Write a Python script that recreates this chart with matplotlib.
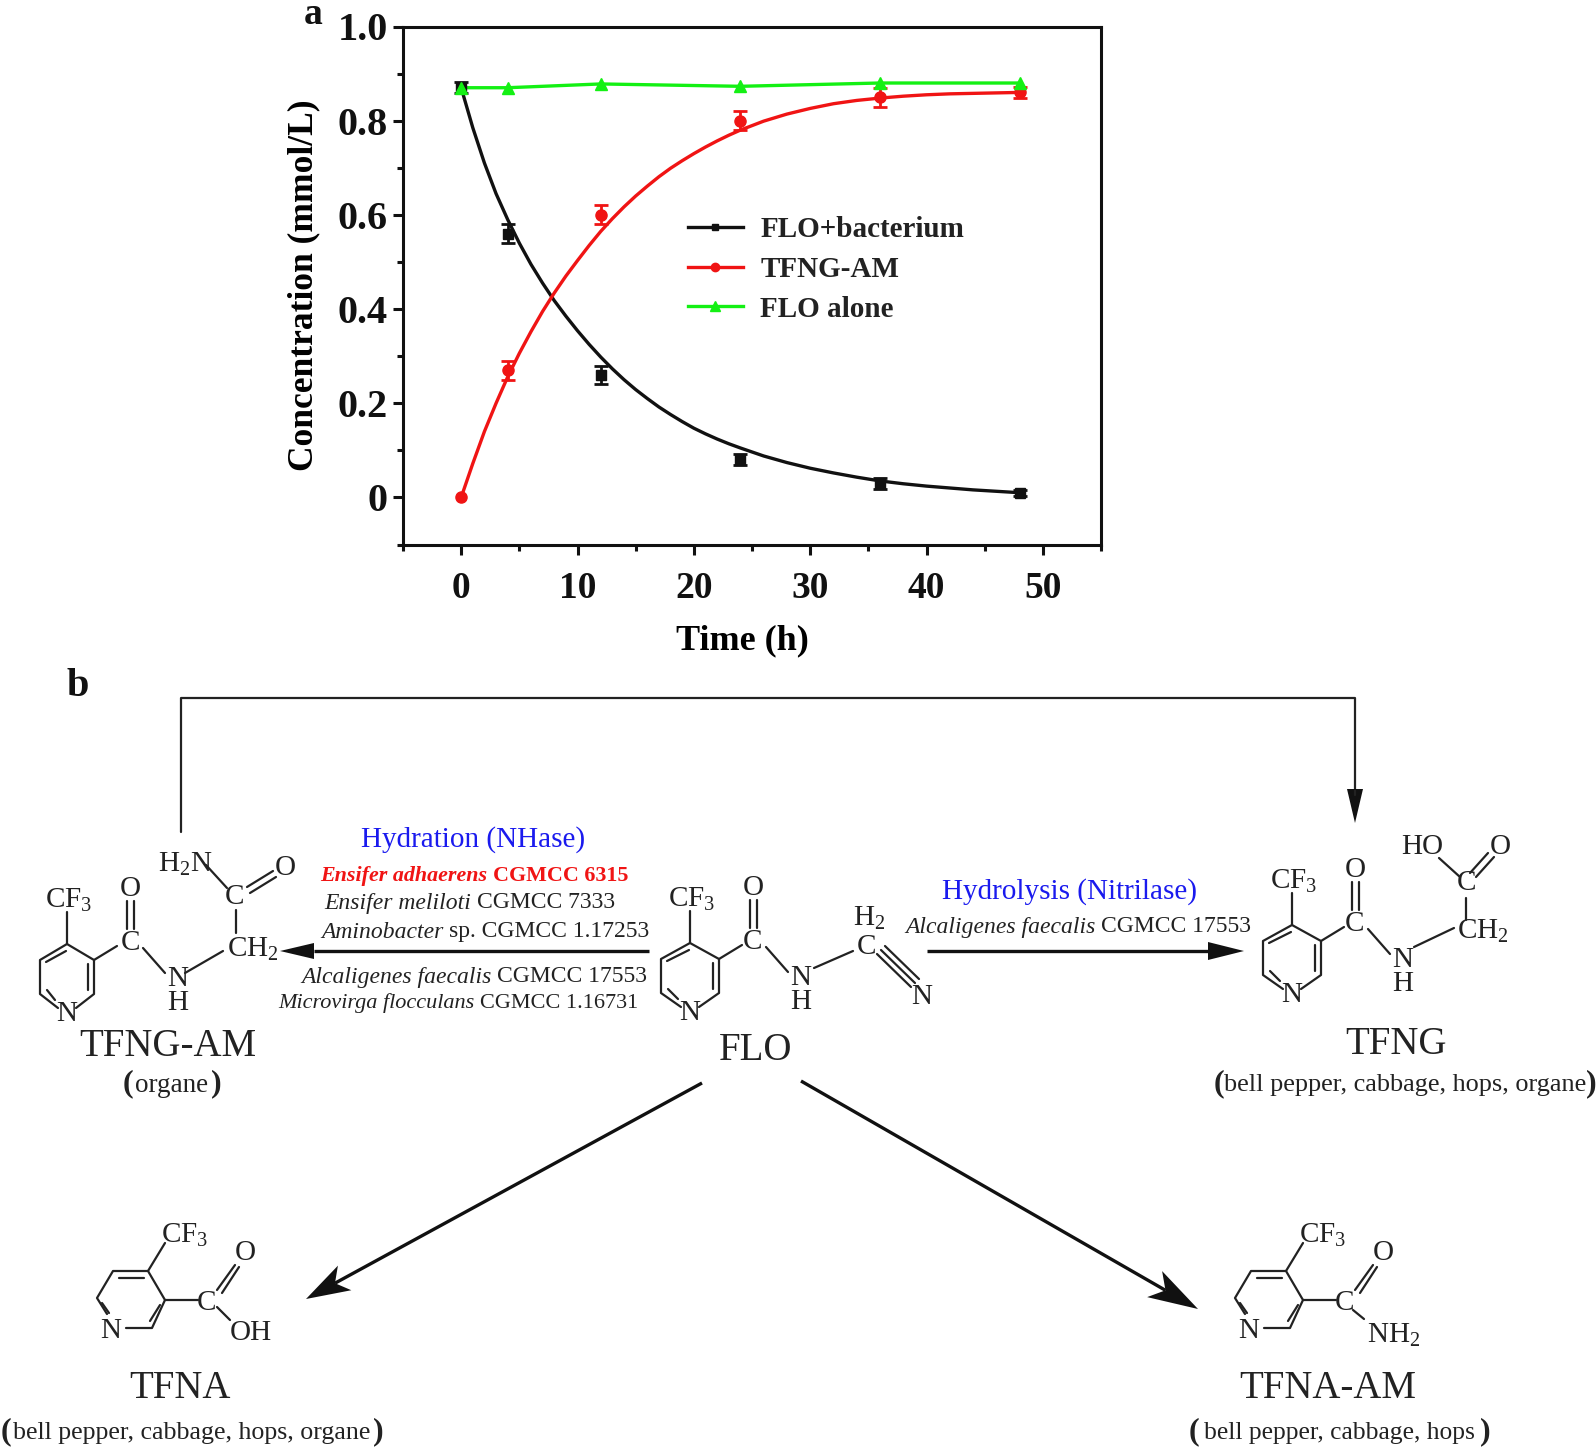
import numpy as np
import matplotlib
matplotlib.use('Agg')
import matplotlib.pyplot as plt
from matplotlib.lines import Line2D
from matplotlib.patches import Polygon

plt.rcParams['font.family'] = ['Liberation Serif', 'DejaVu Serif']
plt.rcParams['mathtext.fontset'] = 'custom'
plt.rcParams['mathtext.rm'] = 'Liberation Serif'
plt.rcParams['mathtext.it'] = 'Liberation Serif:italic'
plt.rcParams['mathtext.bf'] = 'Liberation Serif:bold'
plt.rcParams['mathtext.default'] = 'rm'

# Measured points
time_h = [0, 4, 12, 24, 36, 48]
flo_bacterium = [0.87, 0.56, 0.26, 0.08, 0.03, 0.01]
flo_bacterium_err = [0.012, 0.02, 0.02, 0.012, 0.012, 0.006]
tfng_am = [0.0, 0.27, 0.60, 0.80, 0.85, 0.86]
tfng_am_err = [0.0, 0.02, 0.02, 0.02, 0.02, 0.012]
flo_alone = [0.87, 0.87, 0.878, 0.873, 0.88, 0.88]

# Fitted curves
curve_t = [0, 1, 2, 3, 4, 5, 6, 7, 8, 9, 10, 11, 12, 13, 14, 15, 16, 17, 18, 19, 20, 21, 22, 23, 24,
           26, 28, 30, 32, 34, 36, 38, 40, 42, 44, 46, 48]
flo_curve = [0.87, 0.785, 0.71, 0.645, 0.59, 0.54, 0.495, 0.455, 0.418, 0.385, 0.354, 0.325, 0.298,
             0.273, 0.25, 0.229, 0.21, 0.192, 0.176, 0.161, 0.147, 0.135, 0.124, 0.114, 0.105,
             0.088, 0.074, 0.062, 0.052, 0.043, 0.035, 0.029, 0.024, 0.02, 0.016, 0.013, 0.01]
tfng_curve = [0.0, 0.072, 0.14, 0.2, 0.256, 0.306, 0.352, 0.395, 0.434, 0.47, 0.503, 0.535, 0.565,
              0.592, 0.617, 0.64, 0.661, 0.681, 0.699, 0.715, 0.73, 0.744, 0.757, 0.769, 0.78,
              0.799, 0.814, 0.826, 0.836, 0.843, 0.848, 0.852, 0.855, 0.857, 0.858, 0.859, 0.86]

x_ticks = [0, 10, 20, 30, 40, 50]
y_ticks = [0, 0.2, 0.4, 0.6, 0.8, 1.0]
y_tick_labels = ['0', '0.2', '0.4', '0.6', '0.8', '1.0']

BLACK = '#111111'
RED = '#f01414'
GREEN = '#14f014'
TEXT = '#222222'
BLUE = '#1a1aee'

fig = plt.figure(figsize=(15.96, 14.52), dpi=100, facecolor='white')

# Panel b drawn in pixel coordinates on a full figure axes
bg = fig.add_axes([0, 0, 1, 1])
bg.set_xlim(0, 1596)
bg.set_ylim(1452, 0)
bg.axis('off')

ax = fig.add_axes([403 / 1596, 1 - 544.5 / 1452, 698 / 1596, 518 / 1452])

ax.plot(curve_t, flo_curve, color=BLACK, lw=2.4, zorder=3)
ax.plot(curve_t, tfng_curve, color=RED, lw=2.4, zorder=3)
ax.plot(time_h, flo_alone, color=GREEN, lw=2.4, zorder=4)
ax.errorbar(time_h[1:], tfng_am[1:], yerr=tfng_am_err[1:], fmt='none', ecolor=RED, elinewidth=2, capsize=5, capthick=2, zorder=3)
ax.errorbar(time_h, flo_bacterium, yerr=flo_bacterium_err, fmt='none', ecolor=BLACK, elinewidth=2, capsize=5, capthick=2, zorder=3)
ax.plot(time_h, flo_bacterium, ls='none', marker='s', ms=7, color=BLACK, zorder=4)
ax.plot(time_h, tfng_am, ls='none', marker='o', ms=8, color=RED, zorder=4)
ax.plot(time_h, flo_alone, ls='none', marker='^', ms=8, color=GREEN, zorder=5)

ax.set_xlim(-5, 55)
ax.set_ylim(-0.1, 1.0)
ax.set_xticks(x_ticks)
ax.set_xticks([-5, 5, 15, 25, 35, 45, 55], minor=True)
ax.set_yticks(y_ticks)
ax.set_yticklabels(y_tick_labels)
ax.set_yticks([-0.1, 0.1, 0.3, 0.5, 0.7, 0.9], minor=True)
ax.tick_params(axis='both', which='major', length=7, width=2.2, direction='out', colors=BLACK)
ax.tick_params(axis='both', which='minor', length=4, width=2.2, direction='out', colors=BLACK)
ax.tick_params(axis='x', which='major', labelsize=27, pad=12)
ax.tick_params(axis='y', which='major', labelsize=29, pad=4)
for lab in ax.get_xticklabels() + ax.get_yticklabels():
    lab.set_fontweight('bold')
for s in ax.spines.values():
    s.set_linewidth(2.2)
    s.set_color(BLACK)
ax.set_xlabel('Time (h)', fontsize=26, fontweight='bold', labelpad=13, x=0.487)
ax.set_ylabel('Concentration (mmol/L)', fontsize=25.5, fontweight='bold', labelpad=12.5, y=0.5)

handles = [Line2D([], [], color=BLACK, lw=2.4, marker='s', ms=5),
           Line2D([], [], color=RED, lw=2.4, marker='o', ms=6),
           Line2D([], [], color=GREEN, lw=2.4, marker='^', ms=7)]
ax.legend(handles, ['FLO+bacterium', 'TFNG-AM', 'FLO alone'], loc='upper left', bbox_to_anchor=(0.37, 0.684),
          frameon=False, prop={'size': 21, 'weight': 'bold'}, handlelength=1.9, handletextpad=0.6, labelspacing=0.43,
          labelcolor=TEXT)

bg.text(313, 15, 'a', fontsize=27, fontweight='bold', ha='center', va='center', color=BLACK)
bg.text(78, 686, 'b', fontsize=29, fontweight='bold', ha='center', va='center', color=BLACK)


def label(x, y, s, size=21, **kw):
    kw.setdefault('color', TEXT)
    bg.text(x, y + 2, s, fontsize=size, ha=kw.pop('ha', 'center'), va='center', **kw)


def bond(*pts, lw=1.6):
    xs, ys = zip(*pts)
    bg.plot(xs, ys, color=TEXT, lw=lw, solid_capstyle='round', solid_joinstyle='round')


def arrow(p, q, head=36, half=9, notch=0.0, lw=2.4):
    p, q = np.array(p, float), np.array(q, float)
    u = (q - p) / np.hypot(*(q - p))
    n = np.array([-u[1], u[0]])
    base = q - u * head
    bg.plot([p[0], base[0] + u[0] * head * notch], [p[1], base[1] + u[1] * head * notch], color=BLACK, lw=lw, solid_capstyle='butt')
    bg.add_patch(Polygon([q, base + n * half, base + u * head * notch, base - n * half], closed=True, fc=BLACK, ec='none'))


def runs(x, y, parts, size=17, color=TEXT):
    renderer = fig.canvas.get_renderer()
    for s, style, weight in parts:
        t = bg.text(x, y + 2, s, fontsize=size, style=style, fontweight=weight, color=color, ha='left', va='center')
        x += t.get_window_extent(renderer).width + 0.25 * size / 0.72


def pyridine_arm(x, y, w=29):
    # nicotinoyl amide part, x and y are the ring carbon carrying CF3
    bond((x, y - 32), (x, y))
    bond((x - 9, y + 64), (x - w, y + 50), (x - w, y + 16), (x, y), (x + w, y + 16), (x + w, y + 50), (x + 9, y + 64))
    bond((x - w + 6, y + 18), (x - 1, y + 7))
    bond((x + w - 6, y + 20), (x + w - 6, y + 46))
    bond((x - w + 7, y + 46), (x - 12, y + 56))
    bond((x + w, y + 16), (x + w + 23, y + 2))
    bond((x + 60, y - 43), (x + 60, y - 15))
    bond((x + 67, y - 43), (x + 67, y - 15))
    bond((x + 76, y + 4), (x + 98, y + 29))
    label(x + 2, y - 46, r'CF$_3$')
    label(x + 63, y - 3, 'C')
    label(x + 63, y - 57, 'O')
    label(x, y + 68, 'N')
    label(x + 111, y + 33, 'N')
    label(x + 111, y + 57, 'H')


def pyridine_acid(x, y):
    # small product ring, x and y are the ring carbon carrying CF3
    bond((x + 17, y - 28), (x, y))
    bond((x - 41, y + 43), (x - 51, y + 27), (x - 35, y), (x, y), (x + 17, y + 29), (x + 4, y + 57), (x - 22, y + 57))
    bond((x - 29, y + 7), (x - 4, y + 7))
    bond((x - 46, y + 32), (x - 39, y + 42))
    bond((x + 2, y + 50), (x + 12, y + 34))
    bond((x + 17, y + 29), (x + 50, y + 29))
    bond((x + 69, y + 19), (x + 87, y - 6))
    bond((x + 74, y + 22), (x + 91, y - 4))
    label(x + 37, y - 38, r'CF$_3$')
    label(x + 59, y + 30, 'C')
    label(x + 97, y - 20, 'O')
    label(x - 37, y + 58, 'N')


# TFNG-AM
pyridine_arm(67, 944, w=27)
bond((185, 973), (223, 951))
bond((236, 933), (236, 910))
bond((206, 865), (227, 888))
bond((247, 887), (273, 871))
bond((250, 893), (276, 877))
label(227, 947, r'CH$_2$', ha='left')
label(235, 895, 'C')
label(285, 866, 'O')
label(185, 862, r'H$_2$N')
label(168, 1045, 'TFNG-AM', size=28)
label(172, 1083, 'organe', size=19.5)
label(128, 1082, '(', size=23, fontweight='bold')
label(216, 1082, ')', size=23, fontweight='bold')

# FLO
pyridine_arm(690, 943)
bond((814, 968), (853, 951))
bond((881, 950), (915, 983))
bond((877, 954), (911, 987))
bond((885, 946), (919, 979))
label(866, 945, 'C')
label(869, 916, r'H$_2$')
label(922, 995, 'N')
label(756, 1048, 'FLO', size=28)

# TFNG
pyridine_arm(1292, 925)
bond((1414, 947), (1454, 928))
bond((1466, 920), (1466, 898))
bond((1439, 858), (1460, 877))
bond((1470, 873), (1488, 853))
bond((1476, 877), (1494, 857))
label(1457, 929, r'CH$_2$', ha='left')
label(1466, 881, 'C')
label(1500, 845, 'O')
label(1422, 845, 'HO')
label(1396, 1043, 'TFNG', size=28)
label(1405, 1083, 'bell pepper, cabbage, hops, organe', size=18.9)
label(1219, 1082, '(', size=23, fontweight='bold')
label(1591, 1082, ')', size=23, fontweight='bold')

# TFNA
pyridine_acid(148, 1271)
bond((217, 1307), (230, 1320))
label(251, 1331, 'OH')
label(180, 1387, 'TFNA', size=28)
label(192, 1431, 'bell pepper, cabbage, hops, organe', size=18.6)
label(6, 1430, '(', size=23, fontweight='bold')
label(378, 1430, ')', size=23, fontweight='bold')

# TFNA-AM
pyridine_acid(1286, 1271)
bond((1353, 1310), (1364, 1319))
label(1367, 1333, r'NH$_2$', ha='left')
label(1328, 1386, 'TFNA-AM', size=28)
label(1339, 1431, 'bell pepper, cabbage, hops', size=18.4)
label(1194, 1430, '(', size=23, fontweight='bold')
label(1485, 1430, ')', size=23, fontweight='bold')

# Reaction arrows
bond((181, 832), (181, 698), (1355, 698), (1355, 795), lw=1.6)
arrow((1355, 790), (1355, 823), head=34, half=8, lw=1.6)
arrow((649, 951), (280, 951), head=34, half=8)
arrow((927, 951), (1244, 951), head=36, half=9)
arrow((702, 1083), (306, 1299), head=44, half=14, notch=0.25)
arrow((801, 1081), (1198, 1309), head=50, half=15, notch=0.25)

label(473, 838, 'Hydration (NHase)', size=21, color=BLUE)
label(1069, 890, 'Hydrolysis (Nitrilase)', size=21, color=BLUE)
runs(320, 874, [('Ensifer adhaerens', 'italic', 'bold'), ('CGMCC 6315', 'normal', 'bold')], size=15.8, color=RED)
runs(324, 901, [('Ensifer meliloti', 'italic', 'normal'), ('CGMCC 7333', 'normal', 'normal')])
runs(321, 930, [('Aminobacter', 'italic', 'normal'), ('sp. CGMCC 1.17253', 'normal', 'normal')])
runs(301, 975, [('Alcaligenes faecalis', 'italic', 'normal'), ('CGMCC 17553', 'normal', 'normal')])
runs(278, 1001, [('Microvirga flocculans', 'italic', 'normal'), ('CGMCC 1.16731', 'normal', 'normal')], size=16)
runs(905, 925, [('Alcaligenes faecalis', 'italic', 'normal'), ('CGMCC 17553', 'normal', 'normal')])

fig.savefig('out.png', dpi=100, facecolor='white')
plt.close(fig)
